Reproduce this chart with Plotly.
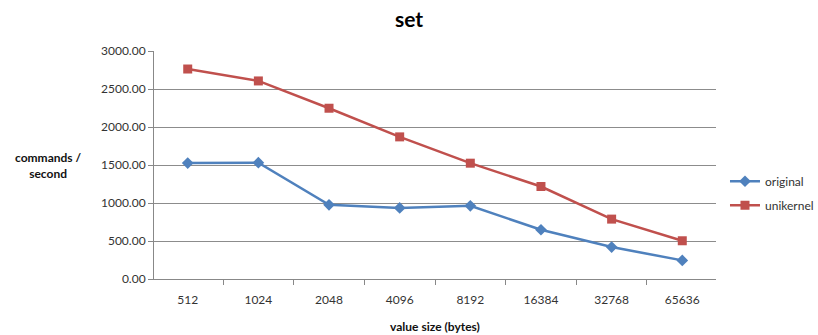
import plotly.graph_objects as go

sizes = ["512", "1024", "2048", "4096", "8192", "16384", "32768", "65636"]
original = [1525, 1530, 976, 935, 963, 648, 420, 245]
unikernel = [2763, 2606, 2247, 1870, 1524, 1217, 788, 503]

FONT = "Lato, Open Sans, sans-serif"

fig = go.Figure()
fig.add_trace(go.Scatter(
    x=sizes, y=original, name="original", mode="lines+markers",
    legendgroup="a",
    line=dict(color="#4F81BD", width=2.5),
    marker=dict(symbol="diamond", size=9, color="#4F81BD"),
))
fig.add_trace(go.Scatter(
    x=sizes, y=unikernel, name="unikernel", mode="lines+markers",
    legendgroup="b",
    line=dict(color="#C0504D", width=2.5),
    marker=dict(symbol="square", size=9, color="#C0504D"),
))

fig.update_layout(
    width=818, height=335,
    margin=dict(l=154, r=102, t=51, b=56, autoexpand=False),
    paper_bgcolor="white", plot_bgcolor="white",
    font=dict(family=FONT, size=12, color="#333333"),
    title=dict(text="<b>set</b>", x=0.5, xanchor="center", y=0.94, yanchor="middle",
               font=dict(family=FONT, size=21, color="black")),
    xaxis=dict(
        type="category", tickson="boundaries", ticks="outside", ticklen=5,
        tickcolor="#888888", showline=True, linecolor="#888888", linewidth=1,
        showgrid=False, tickfont=dict(size=12, color="#333333"),
        ticklabelstandoff=10,
        title=dict(text="<b>value size (bytes)</b>", standoff=16,
                   font=dict(size=12, color="#111111")),
    ),
    yaxis=dict(
        range=[0, 3000], dtick=500, tickformat=".2f", showgrid=True,
        gridcolor="#8c8c8c", gridwidth=1, showline=True, linecolor="#888888",
        ticks="outside", ticklen=5, tickcolor="#888888", zeroline=False,
        tickfont=dict(size=12, color="#333333"),
    ),
    legend=dict(x=1.016, y=0.376, xanchor="left", yanchor="middle",
                font=dict(size=12, color="#333333"), bgcolor="rgba(0,0,0,0)",
                traceorder="grouped", tracegroupgap=5, itemwidth=30),
    annotations=[dict(
        text="<b>commands /<br>second</b>", xref="paper", yref="paper",
        x=-0.187, y=0.496, xanchor="center", yanchor="middle", showarrow=False,
        font=dict(size=12, color="#111111"), align="center",
    )],
)

fig.write_html("out.html")
